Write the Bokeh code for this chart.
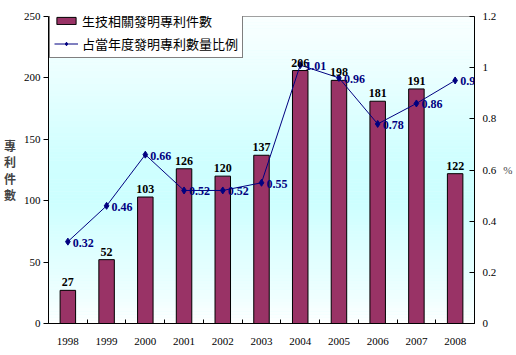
import numpy as np
from bokeh.plotting import figure
from bokeh.models import (Range1d, LinearAxis, FixedTicker, ColumnDataSource,
                          Legend, LegendItem, LabelSet, Label)
from bokeh.core.properties import value
from bokeh.embed import file_html
from bokeh.resources import INLINE

years = ["1998", "1999", "2000", "2001", "2002", "2003", "2004", "2005", "2006", "2007", "2008"]
patents = [27, 52, 103, 126, 120, 137, 206, 198, 181, 191, 122]
ratio = [0.32, 0.46, 0.66, 0.52, 0.52, 0.55, 1.01, 0.96, 0.78, 0.86, 0.95]
left_ticks = [0, 50, 100, 150, 200, 250]
right_ticks = [0, 0.2, 0.4, 0.6, 0.8, 1.0, 1.2]
right_labels = ["0", "0.2", "0.4", "0.6", "0.8", "1", "1.2"]
bar_name = "生技相關發明專利件數"
line_name = "占當年度發明專利數量比例"
left_title = "專\n利\n件\n數"
right_title = "%"

YMAX = 250
PMAX = 1.2
xs = list(range(len(years)))
src = ColumnDataSource(dict(
    x=xs, patents=patents, ratio=ratio,
    plab=[str(v) for v in patents],
))

p = figure(width=516, height=355, output_backend="svg", toolbar_location=None,
           x_range=Range1d(-0.5, len(years) - 0.5), y_range=Range1d(0, YMAX),
           min_border_left=47, min_border_right=42, min_border_top=16, min_border_bottom=32,
           y_axis_location=None, x_axis_location=None)
p.background_fill_color = "#e0ffff"
p.border_fill_color = None
p.outline_line_color = "#808080"
p.grid.visible = False
p.extra_y_ranges = {"pct": Range1d(0, PMAX)}

# gradient background as thin horizontal bands
n = 100
edges = np.linspace(0, YMAX, n + 1)
centers = ((edges[:-1] + edges[1:]) / 2).tolist()
stops_f = [0.0, 0.08, 0.4, 0.55, 0.85, 1.0]
stops_c = [(255, 255, 255), (240, 255, 255), (204, 255, 255), (208, 255, 255), (238, 255, 255), (250, 255, 255)]
cols = []
for c in centers:
    f = c / YMAX
    r, g, b = (int(round(float(np.interp(f, stops_f, [s[k] for s in stops_c])))) for k in range(3))
    cols.append("#%02x%02x%02x" % (r, g, b))
bg = ColumnDataSource(dict(y=centers, color=cols))
p.hbar(y="y", height=YMAX / n * 1.05, left=-0.5, right=len(years) - 0.5, source=bg,
       fill_color="color", line_color=None)

bars = p.vbar(x="x", top="patents", width=0.4, source=src,
              fill_color="#993366", line_color="black", line_width=1)
line = p.line(x="x", y="ratio", source=src, y_range_name="pct",
              line_color="#000080", line_width=1)
pts = p.scatter(x="x", y="ratio", source=src, y_range_name="pct", marker="diamond",
                size=7, fill_color="#000080", line_color="#000080")

p.add_layout(LabelSet(x="x", y="patents", text="plab", source=src,
                      text_align="center", text_baseline="bottom", y_offset=4,
                      text_font=value("Liberation Serif"), text_font_style="bold",
                      text_font_size="12px", text_color="black"))
for xi, r in zip(xs, ratio):
    p.add_layout(Label(x=xi, y=r, y_range_name="pct", text="%.2f" % r,
                       text_align="left", text_baseline="middle", x_offset=5, y_offset=-1,
                       text_font="Liberation Serif", text_font_style="bold",
                       text_font_size="12px", text_color="#000080"))

# axes
xaxis = LinearAxis(ticker=FixedTicker(ticks=xs, minor_ticks=[i - 0.5 for i in range(len(years) + 1)]),
                   major_label_overrides={i: y for i, y in enumerate(years)})
xaxis.major_tick_line_color = None
xaxis.minor_tick_in = 4
xaxis.minor_tick_out = 0
xaxis.minor_tick_line_color = "black"
xaxis.axis_line_color = "black"
xaxis.major_label_standoff = 8
xaxis.major_label_text_font = "Liberation Serif"
xaxis.major_label_text_font_size = "11px"
xaxis.major_label_text_color = "black"
p.add_layout(xaxis, "below")

yaxis = LinearAxis(ticker=FixedTicker(ticks=left_ticks, minor_ticks=[]))
yaxis.major_tick_in = 0
yaxis.major_tick_out = 5
yaxis.major_label_standoff = 3
yaxis.major_label_text_font = "Liberation Serif"
yaxis.major_label_text_font_size = "11px"
yaxis.major_label_text_color = "black"
yaxis.axis_label = left_title
yaxis.axis_label_orientation = "horizontal"
yaxis.axis_label_text_font = "Noto Sans CJK TC"
yaxis.axis_label_text_font_style = "bold"
yaxis.axis_label_text_font_size = "12px"
yaxis.axis_label_text_line_height = 0.97
yaxis.axis_label_text_baseline = "middle"
yaxis.axis_label_text_align = "center"
yaxis.axis_label_standoff = 5
p.add_layout(yaxis, "left")

raxis = LinearAxis(y_range_name="pct", ticker=FixedTicker(ticks=right_ticks, minor_ticks=[]),
                   major_label_overrides={t: l for t, l in zip(right_ticks, right_labels)})
raxis.major_tick_in = 5
raxis.major_tick_out = 0
raxis.major_label_standoff = 8
raxis.major_label_text_font = "Liberation Serif"
raxis.major_label_text_font_size = "11px"
raxis.major_label_text_color = "black"
raxis.axis_label = right_title
raxis.axis_label_orientation = "horizontal"
raxis.axis_label_text_font = "Liberation Serif"
raxis.axis_label_text_font_style = "normal"
raxis.axis_label_text_font_size = "11px"
raxis.axis_label_standoff = 4
p.add_layout(raxis, "right")

legend = Legend(items=[LegendItem(label=bar_name, renderers=[bars]),
                       LegendItem(label=line_name, renderers=[line, pts])],
                location=(1, 265), orientation="vertical",
                border_line_color="black", border_line_width=1,
                background_fill_color="white", background_fill_alpha=1,
                label_text_font="Noto Sans CJK TC", label_text_font_size="13px",
                label_text_color="black", glyph_width=24, glyph_height=9,
                label_standoff=4, spacing=4, padding=4, margin=0,
                label_height=17)
p.add_layout(legend, "center")

open("out.html", "w").write(file_html(p, INLINE))
